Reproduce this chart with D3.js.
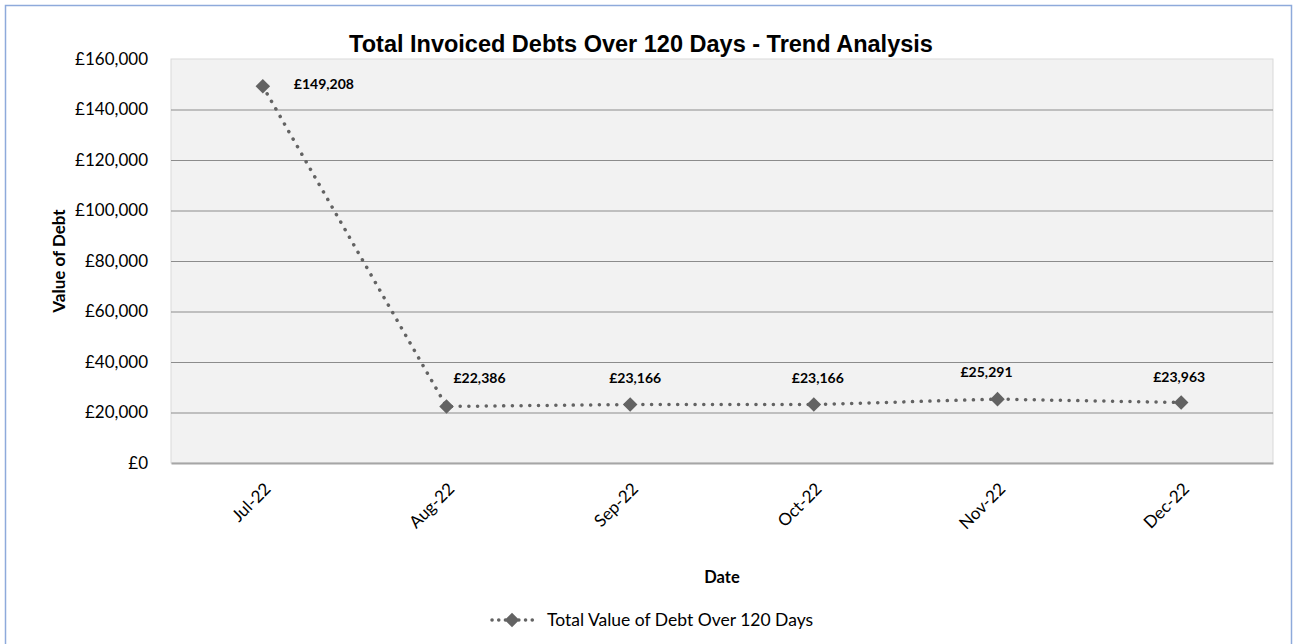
<!DOCTYPE html>
<html>
<head>
<meta charset="utf-8">
<script src="https://cdn.jsdelivr.net/npm/d3@7"></script>
<style>
  body { margin: 0; background: #fff; }
  svg { display: block; }
</style>
</head>
<body>
<div id="chart"></div>
<script>
// Data
const months = ["Jul-22", "Aug-22", "Sep-22", "Oct-22", "Nov-22", "Dec-22"];
const debtValues = [149208, 22386, 23166, 23166, 25291, 23963];
const yTicks = [0, 20000, 40000, 60000, 80000, 100000, 120000, 140000, 160000];
const seriesName = "Total Value of Debt Over 120 Days";

// label nudges (dx, dy) relative to each marker, as Excel placed them
const labelNudge = [[31, 3], [33, -23], [5, -22], [4, -22], [-11, -22], [-2, -20]];

const width = 1293, height = 644;
const plot = { left: 171, top: 59, right: 1273, bottom: 463 };
const font = "Lato, 'Open Sans', sans-serif";
const markColor = "#636363";

const svg = d3.select("#chart").append("svg")
    .attr("width", width).attr("height", height);

// outer chart border
svg.append("rect")
    .attr("x", 5.5).attr("y", 5.5)
    .attr("width", 1286).attr("height", height)
    .attr("fill", "#fff").attr("stroke", "#8eaadb").attr("stroke-width", 1.5);

let x = d3.scaleBand().domain(months).range([plot.left, plot.right]);
let y = d3.scaleLinear().domain([0, 160000]).range([plot.bottom, plot.top]);
let cx = i => x(months[i]) + x.bandwidth() / 2;

// plot background
svg.append("rect")
    .attr("x", plot.left).attr("y", plot.top)
    .attr("width", plot.right - plot.left).attr("height", plot.bottom - plot.top)
    .attr("fill", "#f2f2f2").attr("stroke", "#d9d9d9");

// gridlines
svg.append("g").selectAll("line").data(yTicks.filter(d => d > 0 && d < 160000))
    .join("line")
    .attr("x1", plot.left).attr("x2", plot.right)
    .attr("y1", d => y(d) + 0.5).attr("y2", d => y(d) + 0.5)
    .attr("stroke", "#8c8c8c").attr("stroke-width", 1);

// y axis
let yAxis = d3.axisLeft(y).tickValues(yTicks).tickSize(0).tickPadding(23)
    .tickFormat(d => "£" + d3.format(",")(d));
let yAxisGroup = svg.append("g").attr("transform", `translate(${plot.left}, 0)`).call(yAxis);
yAxisGroup.select(".domain").remove();
yAxisGroup.selectAll("text").attr("font-family", font).attr("font-size", 17).attr("fill", "#000");

// x axis
let xAxis = d3.axisBottom(x).tickSize(0).tickPadding(0);
let xAxisGroup = svg.append("g").attr("transform", `translate(0, ${plot.bottom})`).call(xAxis);
xAxisGroup.select(".domain").attr("stroke", "#a6a6a6").attr("stroke-width", 2);
xAxisGroup.selectAll("text")
    .attr("font-family", font).attr("font-size", 17).attr("fill", "#000")
    .attr("text-anchor", "end")
    .attr("dy", 0)
    .attr("transform", "translate(9, 27) rotate(-45)");

// line
let line = d3.line()
    .x((d, i) => cx(i))
    .y(d => y(d));
svg.append("path").datum(debtValues)
    .attr("d", line)
    .attr("fill", "none")
    .attr("stroke", markColor)
    .attr("stroke-width", 3.5)
    .attr("stroke-linecap", "round")
    .attr("stroke-dasharray", "0.1 8.6");

// markers
let diamond = d3.symbol().type(d3.symbolDiamond2).size(135);
svg.append("g").selectAll("path").data(debtValues)
    .join("path")
    .attr("d", diamond)
    .attr("transform", (d, i) => `translate(${cx(i)}, ${y(d)})`)
    .attr("fill", markColor);

// data labels
svg.append("g").selectAll("text").data(debtValues)
    .join("text")
    .attr("x", (d, i) => cx(i) + labelNudge[i][0])
    .attr("y", (d, i) => y(d) + labelNudge[i][1])
    .attr("text-anchor", (d, i) => i === 0 ? "start" : "middle")
    .attr("font-family", font).attr("font-size", 14).attr("font-weight", "bold")
    .attr("fill", "#000")
    .text(d => "£" + d3.format(",")(d));

// title
svg.append("text")
    .attr("x", 641).attr("y", 52)
    .attr("text-anchor", "middle")
    .attr("font-family", "'Liberation Sans', Arial, sans-serif")
    .attr("font-size", 23.5).attr("font-weight", "bold")
    .text("Total Invoiced Debts Over 120 Days - Trend Analysis");

// axis titles
svg.append("text")
    .attr("transform", `translate(65, ${(plot.top + plot.bottom) / 2}) rotate(-90)`)
    .attr("text-anchor", "middle")
    .attr("font-family", font).attr("font-size", 17).attr("font-weight", "bold")
    .text("Value of Debt");
svg.append("text")
    .attr("x", 722).attr("y", 583)
    .attr("text-anchor", "middle")
    .attr("font-family", font).attr("font-size", 16.5).attr("font-weight", "bold")
    .text("Date");

// legend
let legend = svg.append("g").attr("transform", "translate(492, 620)");
legend.append("line")
    .attr("x1", 0).attr("x2", 46).attr("y1", 0).attr("y2", 0)
    .attr("stroke", markColor).attr("stroke-width", 3.5)
    .attr("stroke-linecap", "round").attr("stroke-dasharray", "0.1 6.6");
legend.append("path").attr("d", diamond)
    .attr("transform", "translate(20, 0)")
    .attr("fill", markColor);
legend.append("text")
    .attr("x", 55).attr("y", 6)
    .attr("font-family", font).attr("font-size", 17.5)
    .text(seriesName);
</script>
</body>
</html>
